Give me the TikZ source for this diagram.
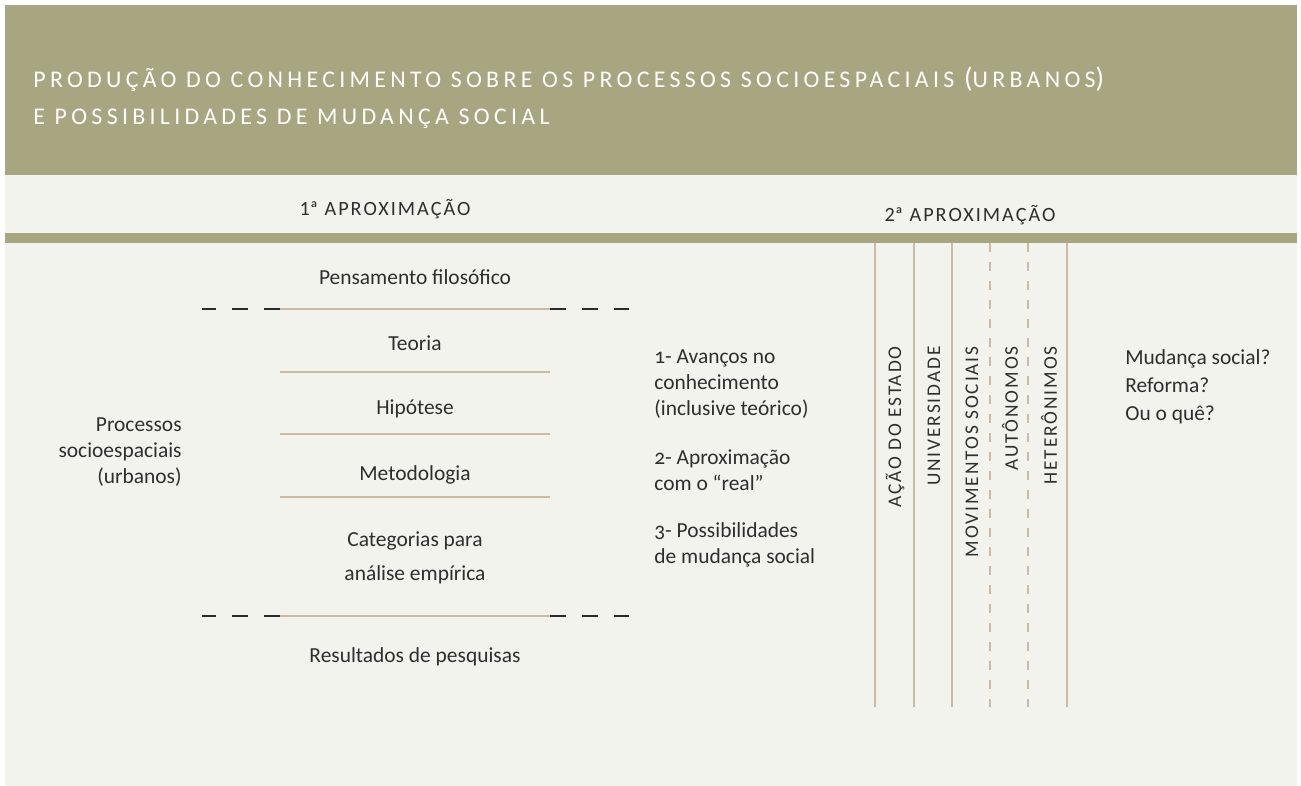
\documentclass[tikz,border=0pt]{standalone}
\usepackage{fontspec}
\setmainfont{Carlito}[Numbers=OldStyle]
\newfontfamily\capsfont{Carlito}[LetterSpace=10]
\newfontfamily\titfont{Carlito}[LetterSpace=18]
\usepackage{xcolor}
\usepackage{tikz}

\definecolor{oliva}{HTML}{A8A681}
\definecolor{fundo}{HTML}{F3F3EE}
\definecolor{bege}{HTML}{C9BBA5}
\definecolor{traco}{HTML}{2A2A2A}
\definecolor{tinta}{HTML}{2E2E2E}

\begin{document}
\begin{tikzpicture}[x=0.02cm,y=-0.02cm,
    txt/.style={text=tinta,inner sep=0pt,font=\fontsize{12.2}{15}\selectfont},
    cab/.style={text=tinta,inner sep=0pt,font=\capsfont\fontsize{11.5}{12}\selectfont},
    tit/.style={text=white,inner sep=0pt,anchor=base west,font=\titfont\fontsize{13.6}{14}\selectfont},
    vert/.style={cab,rotate=90,anchor=east,font=\capsfont\fontsize{11}{12}\selectfont},
    sep/.style={bege,line width=1.1pt},
    tracejado/.style={traco,line width=1.4pt,dash pattern=on 0.32cm off 0.32cm},
    coluna/.style={bege,line width=0.7pt},
    colunatr/.style={coluna,dash pattern=on 0.18cm off 0.2cm}]
    \useasboundingbox (0,0) rectangle (1301,786);
    % fundo e faixas
    \fill[white] (0,0) rectangle (1301,786);
    \fill[fundo] (5,5) rectangle (1297,786);
    \fill[oliva] (5,5) rectangle (1297,175);
    \fill[oliva] (5,233) rectangle (1297,243);

    % titulo
    \node[tit] (titulo1) at (33,88) {PRODUÇÃO DO CONHECIMENTO SOBRE OS PROCESSOS SOCIOESPACIAIS {\fontsize{16}{16}\selectfont(}URBANOS{\fontsize{16}{16}\selectfont)}};
    \node[tit] (titulo2) at (33,125) {E POSSIBILIDADES DE MUDANÇA SOCIAL};

    % aproximacoes
    \node[cab,anchor=base] (aprox1) at (385,216) {1{\addfontfeatures{LetterSpace=0}ª} APROXIMAÇÃO};
    \node[cab,anchor=base] (aprox2) at (970,222) {2{\addfontfeatures{LetterSpace=0}ª} APROXIMAÇÃO};

    % 1a aproximacao
    \node[txt] (filosofico) at (415,277) {Pensamento filosófico};
    \node[txt] (teoria) at (415,343) {Teoria};
    \node[txt] (hipotese) at (415,409) {Hipótese};
    \node[txt] (metodologia) at (415,475) {Metodologia};
    \node[txt,align=center,font=\fontsize{12.2}{19.3}\selectfont] (categorias) at (415,558) {Categorias para\\análise empírica};
    \node[txt] (resultados) at (415,657) {Resultados de pesquisas};

    \node[txt,align=right,anchor=north east] (processos) at (182,417) {Processos\\socioespaciais\\(urbanos)};

    \coordinate (s1a) at (280,309); \coordinate (s1b) at (550,309);
    \coordinate (s5a) at (280,616); \coordinate (s5b) at (550,616);
    \draw[tracejado] (s1a) -- (202,309);
    \draw[tracejado] (s1b) -- (629,309);
    \draw[tracejado] (s5a) -- (202,616);
    \draw[tracejado] (s5b) -- (629,616);
    \draw[sep] (s1a) -- (s1b);
    \draw[sep] (280,372) -- (550,372);
    \draw[sep] (280,434) -- (550,434);
    \draw[sep] (280,497) -- (550,497);
    \draw[sep] (s5a) -- (s5b);

    \node[txt,align=left,anchor=north west] (avancos) at (654,349) {1- Avanços no\\conhecimento\\(inclusive teórico)};
    \node[txt,align=left,anchor=north west] (real) at (654,449) {2- Aproximação\\com o “real”};
    \node[txt,align=left,anchor=north west] (possib) at (654,522) {3- Possibilidades\\de mudança social};

    % 2a aproximacao
    \foreach \x in {875,914,952,1067}
        \draw[coluna] (\x,243) -- (\x,707);
    \foreach \x in {990,1028}
        \draw[colunatr] (\x,243) -- (\x,707);

    \node[vert] (estado) at (895,346) {AÇÃO DO ESTADO};
    \node[vert] (univ) at (934,346) {UNIVERSIDADE};
    \node[vert] (movim) at (972,346) {MOVIMENTOS SOCIAIS};
    \node[vert] (auton) at (1010,346) {AUTÔNOMOS};
    \node[vert] (heter) at (1049,346) {HETERÔNIMOS};

    \node[txt,align=left,anchor=north west,font=\fontsize{12.2}{16}\selectfont] (mudanca) at (1125,349) {Mudança social?\\Reforma?\\Ou o quê?};
\end{tikzpicture}
\end{document}
